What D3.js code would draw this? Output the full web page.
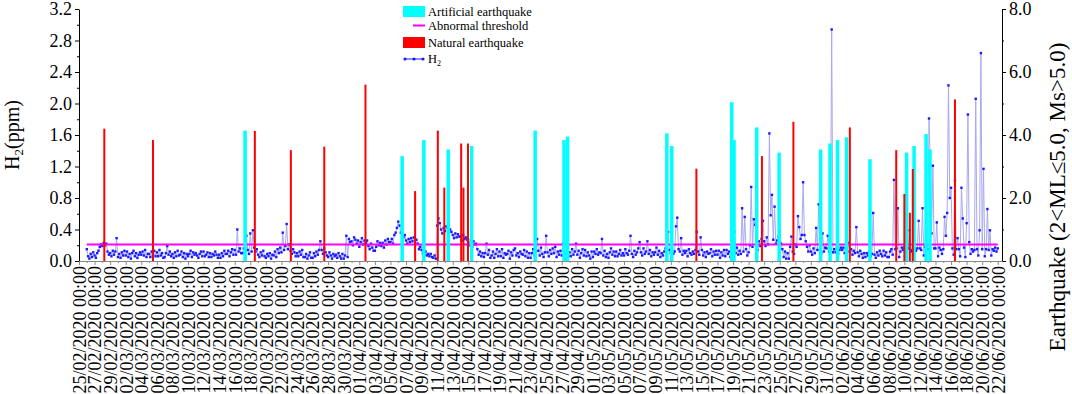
<!DOCTYPE html>
<html><head><meta charset="utf-8">
<script src="https://cdn.jsdelivr.net/npm/d3@7"></script>
<style>body{margin:0;background:#fff} svg{display:block} text{font-family:"Liberation Serif","Times New Roman",serif;fill:#000}</style>
</head><body><svg id="c" width="1072" height="394"></svg>
<script>
// ---------- data ----------
const xTickLabels = ["25/02/2020 00:00","27/02/2020 00:00","29/02/2020 00:00",
"02/03/2020 00:00","04/03/2020 00:00","06/03/2020 00:00","08/03/2020 00:00","10/03/2020 00:00","12/03/2020 00:00","14/03/2020 00:00","16/03/2020 00:00","18/03/2020 00:00","20/03/2020 00:00","22/03/2020 00:00","24/03/2020 00:00","26/03/2020 00:00","28/03/2020 00:00","30/03/2020 00:00",
"01/04/2020 00:00","03/04/2020 00:00","05/04/2020 00:00","07/04/2020 00:00","09/04/2020 00:00","11/04/2020 00:00","13/04/2020 00:00","15/04/2020 00:00","17/04/2020 00:00","19/04/2020 00:00","21/04/2020 00:00","23/04/2020 00:00","25/04/2020 00:00","27/04/2020 00:00","29/04/2020 00:00",
"01/05/2020 00:00","03/05/2020 00:00","05/05/2020 00:00","07/05/2020 00:00","09/05/2020 00:00","11/05/2020 00:00","13/05/2020 00:00","15/05/2020 00:00","17/05/2020 00:00","19/05/2020 00:00","21/05/2020 00:00","23/05/2020 00:00","25/05/2020 00:00","27/05/2020 00:00","29/05/2020 00:00","31/05/2020 00:00",
"02/06/2020 00:00","04/06/2020 00:00","06/06/2020 00:00","08/06/2020 00:00","10/06/2020 00:00","12/06/2020 00:00","14/06/2020 00:00","16/06/2020 00:00","18/06/2020 00:00","20/06/2020 00:00","22/06/2020 00:00"];
const yLeftTicks = [0.0,0.4,0.8,1.2,1.6,2.0,2.4,2.8,3.2];
const yRightTicks = [0,2,4,6,8];

// H2 (ppm), one value every 4 hours from h2Start (one day per group of 6)
const h2Start = "26/02/2020 00:00";
const h2StepHours = 4;
const h2Values = [
.15,.06,.03,.09,.05,.11, .07,.04,.10,.13,.18,.21,
.19,.23,.20,.22,.12,.08, .10,.06,.13,.08,.12,.29,
.05,.09,.04,.11,.07,.13, .07,.12,.05,.09,.03,.10,
.13,.06,.10,.04,.08,.11, .08,.12,.07,.14,.05,.09,
.09,.05,.12,.08,.13,.06, .11,.06,.14,.07,.10,.04,
.05,.10,.19,.08,.12,.06, .09,.04,.11,.06,.13,.07,
.08,.12,.05,.10,.03,.09, .06,.09,.13,.05,.11,.08,
.10,.07,.04,.09,.12,.06, .12,.06,.08,.11,.05,.10,
.05,.09,.07,.12,.08,.04, .08,.04,.10,.06,.13,.09,
.09,.13,.06,.11,.15,.08, .14,.08,.40,.12,.16,.10,
.10,.16,.13,.32,.14,.09, .35,.12,.39,.17,.12,.15,
.08,.05,.11,.07,.13,.06, .04,.09,.06,.10,.03,.08,
.07,.12,.05,.15,.10,.17, .11,.36,.14,.19,.47,.15,
.21,.13,.09,.15,.11,.06, .10,.06,.12,.08,.14,.05,
.05,.09,.03,.07,.11,.04, .04,.10,.06,.12,.08,.14,
.25,.14,.09,.16,.11,.07, .05,.11,.07,.03,.09,.06,
.08,.04,.10,.06,.03,.09, .03,.07,.32,.05,.28,.24,
.25,.20,.30,.27,.22,.26, .18,.24,.29,.21,.26,.23,
.26,.19,.15,.22,.17,.13, .13,.18,.25,.20,.23,.19,
.23,.17,.26,.21,.28,.24, .24,.28,.22,.33,.36,.42,
.50,.45,.36,.34,.30,.33, .26,.22,.28,.24,.29,.25,
.30,.21,.27,.22,.15,.18, .14,.10,.08,.12,.07,.09,
.06,.09,.05,.04,.07,.03, .45,.54,.48,.40,.35,.42,
.38,.44,.42,.36,.40,.37, .33,.29,.35,.30,.34,.31,
.31,.26,.33,.28,.30,.27, .24,.20,.27,.18,.25,.21,
.22,.15,.08,.12,.06,.10, .05,.10,.22,.08,.14,.04,
.07,.12,.04,.09,.15,.06, .12,.06,.15,.04,.10,.08,
.09,.13,.03,.11,.07,.14, .16,.07,.10,.05,.12,.09,
.08,.14,.06,.12,.04,.10, .04,.10,.15,.07,.12,.28,
.13,.07,.17,.09,.05,.11, .32,.11,.06,.14,.09,.16,
.10,.18,.05,.12,.08,.13, .07,.22,.09,.03,.11,.06,
.11,.06,.15,.08,.12,.22, .08,.13,.04,.10,.15,.07,
.14,.06,.11,.07,.03,.12, .05,.12,.09,.15,.08,.11,
.10,.28,.07,.13,.05,.09, .04,.11,.16,.08,.12,.06,
.12,.06,.09,.14,.07,.10, .07,.15,.10,.08,.13,.32,
.09,.05,.13,.08,.11,.16, .24,.11,.07,.16,.09,.12,
.25,.09,.14,.06,.11,.08, .11,.17,.08,.13,.05,.10,
.07,.12,.16,.09,.37,.14, .10,.14,.09,.12,.44,.55,
.15,.12,.29,.08,.13,.10, .13,.06,.15,.10,.08,.12,
.09,.14,.37,.12,.08,.30, .14,.07,.11,.05,.12,.09,
.10,.15,.06,.12,.08,.13, .08,.13,.04,.11,.07,.14,
.06,.14,.09,.12,.05,.10, .11,.37,.10,.17,.08,.13,
.09,.67,.12,.56,.15,.07, .11,.20,.94,.18,.53,.46,
.22,.14,.25,.19,.28,.51, .25,.19,.30,.21,1.62,.58,
.84,.27,.69,.22,.26,.31, .37,.22,.15,.05,.12,.03,
.10,.03,.18,.31,.12,.09, .21,.18,.57,.43,.28,.33,
1.00,.33,.25,.18,.12,.20, .12,.08,.16,.10,.42,.14,
.72,.14,.10,.35,.12,.17, .16,.32,.12,.15,2.94,.11,
.15,.11,.18,.09,.14,.17, .14,.17,.10,.16,.12,.23,
.12,.15,.08,.13,.10,.43, .11,.06,.13,.09,.04,.10,
.05,.10,.07,.12,.06,.09, .61,.08,.04,.11,.07,.13,
.09,.06,.13,.07,.11,.05, .05,.12,.15,.08,1.03,.15,
.16,.67,.05,.12,.17,.14, .17,.08,.15,.16,.39,.12,
.14,.04,.15,.13,.16,.51, .16,.14,.67,.07,.18,.15,
.15,1.81,1.21,.35,1.21,.16, .16,.49,.06,.17,.14,.09,
.15,.56,.32,.61,2.23,.80, .93,.16,.08,1.02,.15,.29,
.15,.06,.93,.54,.17,.05, .48,1.86,.24,.09,.15,.12,
.14,2.06,.15,.07,.39,2.64, .15,1.17,.06,.15,.66,.14,
.39,.07,.15,.13,.17,.12, .16];

const thresholdValue = 0.21;
const thresholdRange = ["26/02/2020 00:00","22/06/2020 00:00"];

const naturalTimes = ["28/02/2020 06:00","05/03/2020 12:00","18/03/2020 14:00","23/03/2020 05:00","27/03/2020 12:00","01/04/2020 19:00","08/04/2020 04:00","11/04/2020 02:00","11/04/2020 22:00","14/04/2020 02:00","14/04/2020 09:00","14/04/2020 23:00","14/05/2020 07:00","22/05/2020 17:00","26/05/2020 18:00","03/06/2020 00:00","08/06/2020 23:00","10/06/2020 00:00","10/06/2020 17:00","11/06/2020 02:00","16/06/2020 12:00"];
const naturalMags  = [4.2,3.84,4.13,3.52,3.63,5.6,2.22,4.14,2.33,3.73,2.33,3.73,2.93,3.33,4.42,4.24,3.52,2.13,1.53,2.92,5.13];

const artificialTimes = ["17/03/2020 08:00","06/04/2020 12:00","09/04/2020 07:00","12/04/2020 10:00","15/04/2020 10:00","23/04/2020 14:00","27/04/2020 07:00","27/04/2020 18:00","10/05/2020 12:00","11/05/2020 03:00","18/05/2020 20:00","19/05/2020 03:00","22/05/2020 01:00","24/05/2020 22:00","30/05/2020 06:00","31/05/2020 11:00","01/06/2020 10:00","02/06/2020 14:00","05/06/2020 14:00","10/06/2020 07:00","11/06/2020 06:00","12/06/2020 19:00","13/06/2020 07:00"];
const artificialMags  = [4.14,3.33,3.84,3.54,3.65,4.14,3.84,3.95,4.05,3.65,5.04,3.84,4.24,3.44,3.54,3.73,3.84,3.93,3.23,3.44,3.65,4.03,3.54];

const legendLabels = ["Artificial earthquake","Abnormal threshold","Natural earthquake","H"];

// ---------- drawing ----------
const parse = d3.utcParse("%d/%m/%Y %H:%M");
const svg = d3.select("#c");
const x = d3.scaleUtc().domain([parse("25/02/2020 00:00"), parse("22/06/2020 13:00")]).range([79, 1002]);
const yL = d3.scaleLinear().domain([0, 3.2]).range([261, 9]);
const yR = d3.scaleLinear().domain([0, 8]).range([261, 9]);

const COL_CYAN = "#00ffff", COL_RED = "#ff0000", COL_MAG = "#ff00ff", COL_DOT = "#1a1aff", COL_LINE = "#a9a9f2";

// H2 series
const t0 = parse(h2Start);
const h2 = h2Values.map((v, i) => ({t: d3.utcHour.offset(t0, i * h2StepHours), v}));
svg.append("path").datum(h2)
  .attr("d", d3.line().x(d => x(d.t)).y(d => yL(d.v)))
  .attr("fill", "none").attr("stroke", COL_LINE).attr("stroke-width", 1);
svg.append("g").selectAll("rect").data(h2).join("rect")
  .attr("x", d => x(d.t) - 1.2).attr("y", d => yL(d.v) - 1.2)
  .attr("width", 2.4).attr("height", 2.4).attr("fill", COL_DOT);

// threshold
svg.append("line")
  .attr("x1", x(parse(thresholdRange[0]))).attr("x2", x(parse(thresholdRange[1])))
  .attr("y1", yL(thresholdValue)).attr("y2", yL(thresholdValue))
  .attr("stroke", COL_MAG).attr("stroke-width", 2);

// artificial earthquakes
svg.append("g").selectAll("rect").data(artificialTimes.map((t, i) => ({t: parse(t), m: artificialMags[i]}))).join("rect")
  .attr("x", d => x(d.t) - 1.75).attr("width", 3.5)
  .attr("y", d => yR(d.m)).attr("height", d => yR(0) - yR(d.m))
  .attr("fill", COL_CYAN);
// natural earthquakes
svg.append("g").selectAll("rect").data(naturalTimes.map((t, i) => ({t: parse(t), m: naturalMags[i]}))).join("rect")
  .attr("x", d => x(d.t) - 1).attr("width", 2)
  .attr("y", d => yR(d.m)).attr("height", d => yR(0) - yR(d.m))
  .attr("fill", COL_RED);

// axes
const fmt1 = d3.format(".1f");
const gl = svg.append("g").attr("transform", "translate(79,0)")
  .call(d3.axisLeft(yL).tickValues(yLeftTicks).tickFormat(fmt1).tickSize(4).tickSizeOuter(0).tickPadding(3));
svg.append("g").attr("transform", "translate(79,0)")
  .call(d3.axisLeft(yL).tickValues(yLeftTicks.slice(1).map(v => v - 0.2)).tickFormat("").tickSize(2).tickSizeOuter(0))
  .select(".domain").remove();
const gr = svg.append("g").attr("transform", "translate(1002,0)")
  .call(d3.axisRight(yR).tickValues(yRightTicks).tickFormat(fmt1).tickSize(4).tickSizeOuter(0).tickPadding(3));
svg.append("g").attr("transform", "translate(1002,0)")
  .call(d3.axisRight(yR).tickValues(yRightTicks.slice(1).map(v => v - 1)).tickFormat("").tickSize(2).tickSizeOuter(0))
  .select(".domain").remove();
[gl, gr].forEach(g => { g.selectAll("text").style("font-size", "18px").style("font-family", '"Liberation Serif",serif'); });

const xTicks = xTickLabels.map(parse);
const gx = svg.append("g").attr("transform", "translate(0,261)")
  .call(d3.axisBottom(x).tickValues(xTicks).tickFormat((d, i) => xTickLabels[i]).tickSize(4).tickSizeOuter(0));
gx.select(".domain").attr("stroke", "#888");
gx.selectAll(".tick line").attr("stroke", "#888");
gx.selectAll("text").attr("transform", "rotate(-90)").attr("text-anchor", "end")
  .attr("x", -5).attr("y", 0).attr("dy", "0.35em")
  .style("font-size", "18px").style("font-family", '"Liberation Serif",serif');
svg.append("g").attr("transform", "translate(0,261)")
  .call(d3.axisBottom(x).tickValues(xTicks.slice(0, -1).map(d => d3.utcDay.offset(d, 1))).tickFormat("").tickSize(2).tickSizeOuter(0))
  .call(g => g.select(".domain").remove()).selectAll("line").attr("stroke", "#888");

// axis titles
const lt = svg.append("text").attr("transform", "translate(19,135) rotate(-90)").attr("text-anchor", "middle").style("font-size", "20px");
lt.append("tspan").text("H");
lt.append("tspan").text("2").style("font-size", "13px").attr("dy", 4);
lt.append("tspan").text("(ppm)").attr("dy", -4);
svg.append("text").attr("transform", "translate(1057,197) rotate(-90)").attr("text-anchor", "middle").attr("dy", "0.35em")
  .style("font-size", "23px").text("Earthquake (2<ML\u22645.0, Ms>5.0)");

// legend
const lg = svg.append("g").style("font-size", "12.5px");
lg.append("rect").attr("x", 403).attr("y", 6).attr("width", 22).attr("height", 11).attr("fill", COL_CYAN);
lg.append("text").attr("x", 428).attr("y", 12).attr("dy", "0.35em").text(legendLabels[0]);
lg.append("line").attr("x1", 413).attr("x2", 425).attr("y1", 25.5).attr("y2", 25.5).attr("stroke", COL_MAG).attr("stroke-width", 2);
lg.append("text").attr("x", 428).attr("y", 25.5).attr("dy", "0.35em").text(legendLabels[1]);
lg.append("rect").attr("x", 403).attr("y", 37).attr("width", 22).attr("height", 11).attr("fill", COL_RED);
lg.append("text").attr("x", 428).attr("y", 42.5).attr("dy", "0.35em").text(legendLabels[2]);
lg.append("line").attr("x1", 405).attr("x2", 423).attr("y1", 59).attr("y2", 59).attr("stroke", COL_DOT).attr("stroke-width", 1);
[405, 414, 423].forEach(cx => lg.append("circle").attr("cx", cx).attr("cy", 59).attr("r", 1.6).attr("fill", COL_DOT));
const lh = lg.append("text").attr("x", 428).attr("y", 59).attr("dy", "0.35em");
lh.append("tspan").text(legendLabels[3]);
lh.append("tspan").text("2").style("font-size", "8px").attr("dy", 3);
</script></body></html>
